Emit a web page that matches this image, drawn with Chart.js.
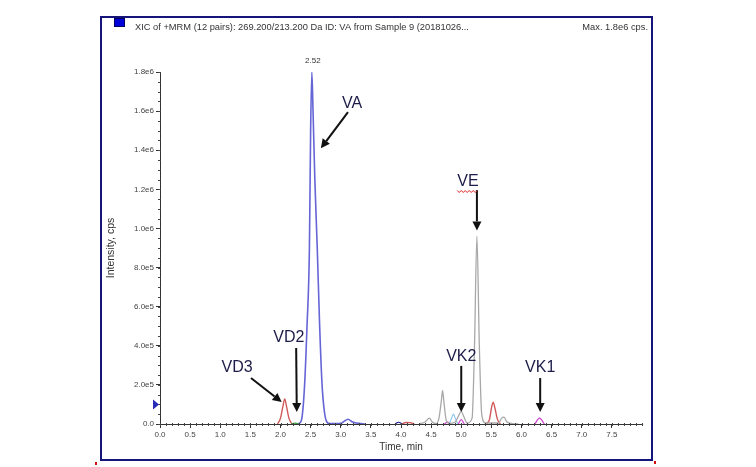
<!DOCTYPE html>
<html>
<head>
<meta charset="utf-8">
<script src="https://cdn.jsdelivr.net/npm/chart.js@4.4.0/dist/chart.umd.min.js"></script>
<style>
  html, body { margin: 0; padding: 0; background: #fff; }
  #wrap { position: relative; width: 756px; height: 467px; }
</style>
</head>
<body>
<div id="wrap"><canvas id="xicChart" width="756" height="467"></canvas></div>
<script>
// XIC traces, time in min, intensity in cps (null = gap between peaks)
const vaTime = [2.28, 2.32, 2.36, 2.40, 2.44, 2.48, 2.50, 2.52, 2.54, 2.57, 2.61, 2.65, 2.69, 2.73, 2.77, 2.82, 2.90, 3.00, 3.05, 3.12, 3.20, 3.30, 3.40];
const vaInt  = [0, 5e3, 4e4, 2e5, 5e5, 9e5, 1.5e6, 1.8e6, 1.6e6, 1.25e6, 9e5, 5e5, 2e5, 6e4, 1e4, 2e3, 2e3, 3e3, 1.2e4, 2.4e4, 1e4, 3e3, 0];

const redTime = [1.95, 2.00, 2.04, 2.07, 2.10, 2.14, 2.19, null, 4.02, 4.08, 4.15, 4.22, null, 5.42, 5.47, 5.50, 5.53, 5.56, 5.60, 5.65];
const redInt  = [0, 3e4, 9e4, 1.28e5, 9e4, 3e4, 0, null, 0, 8e3, 7e3, 0, null, 0, 2.5e4, 8e4, 1.12e5, 8e4, 2.5e4, 0];

const grayTime = [4.30, 4.40, 4.47, 4.52, 4.58, 4.63, 4.67, 4.69, 4.71, 4.75, 4.80, 4.90, 4.96, 5.00, 5.04, 5.10, 5.18, 5.22, 5.26, 5.30, 5.34, 5.40, 5.62, 5.67, 5.71, 5.76, 5.85, 5.95];
const grayInt  = [0, 1e4, 3e4, 1e4, 2e3, 3e4, 1.2e5, 1.72e5, 1.2e5, 2e4, 3e3, 1e4, 4.5e4, 6.5e4, 4e4, 5e3, 3e4, 4e5, 9.6e5, 4e5, 5e4, 5e3, 5e3, 3e4, 3.5e4, 1e4, 2e3, 0];

const cyanTime = [4.80, 4.84, 4.87, 4.90, 4.94];
const cyanInt  = [0, 3e4, 5e4, 3e4, 0];

const pinkTime = [4.72, 4.77, 4.82, null, 4.95, 5.00, 5.05, null, 6.22, 6.30, 6.38];
const pinkInt  = [0, 1e4, 0, null, 0, 2.2e4, 0, null, 0, 3e4, 0];

const greenTime = [2.18, 2.24, 2.30];
const greenInt  = [0, 4e3, 0];

const navyTime = [3.90, 3.96, 4.02];
const navyInt  = [0, 9e3, 0];

// axis ticks
const xTicks = [0, 0.5, 1, 1.5, 2, 2.5, 3, 3.5, 4, 4.5, 5, 5.5, 6, 6.5, 7, 7.5];
const yTicks = [0, 2e5, 4e5, 6e5, 8e5, 1e6, 1.2e6, 1.4e6, 1.6e6, 1.8e6];

// peak labels (arrow tail / head in time & cps)
const peakNames  = ['VA', 'VE', 'VK2', 'VK1', 'VD3', 'VD2'];
const labelPos   = [[3.19, 1.64e6], [5.11, 1.24e6], [5.00, 3.43e5], [6.31, 2.86e5], [1.28, 2.86e5], [2.14, 4.40e5]];
const arrowFrom  = [[3.12, 1.595e6], [5.26, 1.196e6], [5.00, 2.97e5], [6.31, 2.35e5], [1.51, 2.35e5], [2.26, 3.89e5]];
const arrowTo    = [[2.67, 1.41e6], [5.26, 0.99e6], [5.00, 6.1e4], [6.31, 6.1e4], [2.02, 1.12e5], [2.27, 6.1e4]];

const apexTime = 2.52;
const apexInt = 1.8e6;

const fontFam = '"Liberation Sans", Arial, sans-serif';

function toPoints(ts, vs) {
    return ts.map(function(t, i) {
        return t === null ? { x: null, y: null } : { x: t, y: vs[i] };
    });
}

function trace(ts, vs, color, width) {
    return {
        data: toPoints(ts, vs),
        borderColor: color,
        borderWidth: width || 1.2,
        pointRadius: 0,
        fill: false,
        spanGaps: false,
        cubicInterpolationMode: 'monotone'
    };
}

function drawArrow(ctx, x1, y1, x2, y2) {
    const ang = Math.atan2(y2 - y1, x2 - x1);
    const hl = 9, hw = 4.5;
    const bx = x2 - hl * Math.cos(ang), by = y2 - hl * Math.sin(ang);
    ctx.beginPath();
    ctx.moveTo(x1, y1);
    ctx.lineTo(bx, by);
    ctx.strokeStyle = '#111';
    ctx.lineWidth = 2;
    ctx.stroke();
    ctx.beginPath();
    ctx.moveTo(x2, y2);
    ctx.lineTo(bx + hw * Math.sin(ang), by - hw * Math.cos(ang));
    ctx.lineTo(bx - hw * Math.sin(ang), by + hw * Math.cos(ang));
    ctx.closePath();
    ctx.fillStyle = '#111';
    ctx.fill();
}

const framePlugin = {
    id: 'xicFrame',
    beforeDraw(chart) {
        const ctx = chart.ctx;
        ctx.save();
        ctx.fillStyle = '#fff';
        ctx.fillRect(0, 0, chart.width, chart.height);
        ctx.restore();
    },
    afterDraw(chart) {
        const ctx = chart.ctx;
        const xs = chart.scales.x, ys = chart.scales.y;
        const area = chart.chartArea;
        ctx.save();

        // outer window frame
        ctx.strokeStyle = '#14147a';
        ctx.lineWidth = 2;
        ctx.strokeRect(101, 17, 551, 443);

        // blue square + header
        ctx.fillStyle = '#0000d8';
        ctx.fillRect(114, 18, 11, 9);
        ctx.strokeStyle = '#000060';
        ctx.lineWidth = 1;
        ctx.strokeRect(114.5, 18.5, 10, 8);
        ctx.font = '9.3px ' + fontFam;
        ctx.fillStyle = '#333';
        ctx.textBaseline = 'middle';
        ctx.textAlign = 'left';
        ctx.fillText('XIC of +MRM (12 pairs): 269.200/213.200 Da ID: VA from Sample 9 (20181026...', 135, 27);
        ctx.textAlign = 'right';
        ctx.fillText('Max. 1.8e6 cps.', 648, 27);

        // minor ticks
        ctx.strokeStyle = '#444';
        ctx.lineWidth = 1;
        ctx.beginPath();
        for (let i = 0; i <= 80; i++) {
            const px = Math.round(xs.getPixelForValue(i / 10)) + 0.5;
            ctx.moveTo(px, area.bottom - 1);
            ctx.lineTo(px, area.bottom + 2);
        }
        for (let i = 0; i <= 36; i++) {
            const py = Math.round(ys.getPixelForValue(i * 5e4)) + 0.5;
            ctx.moveTo(area.left - 2, py);
            ctx.lineTo(area.left + 1, py);
        }
        ctx.stroke();

        // baseline marker on y axis
        const my = ys.getPixelForValue(1e5);
        ctx.fillStyle = '#2a2ab8';
        ctx.beginPath();
        ctx.moveTo(area.left - 7, my - 5);
        ctx.lineTo(area.left - 1, my);
        ctx.lineTo(area.left - 7, my + 5);
        ctx.closePath();
        ctx.fill();

        // apex label
        ctx.font = '8px ' + fontFam;
        ctx.fillStyle = '#333';
        ctx.textAlign = 'center';
        ctx.textBaseline = 'bottom';
        ctx.fillText(apexTime.toFixed(2), xs.getPixelForValue(apexTime) + 1, ys.getPixelForValue(apexInt) - 7);

        // peak names with arrows
        ctx.font = '16px ' + fontFam;
        ctx.textBaseline = 'middle';
        peakNames.forEach(function(name, i) {
            const lx = xs.getPixelForValue(labelPos[i][0]);
            const ly = ys.getPixelForValue(labelPos[i][1]);
            ctx.fillStyle = '#1c1c48';
            ctx.textAlign = 'center';
            ctx.fillText(name, lx, ly);
            drawArrow(ctx,
                xs.getPixelForValue(arrowFrom[i][0]), ys.getPixelForValue(arrowFrom[i][1]),
                xs.getPixelForValue(arrowTo[i][0]), ys.getPixelForValue(arrowTo[i][1]));
            if (name === 'VE') {
                // spell-check squiggle
                const w = ctx.measureText(name).width;
                ctx.strokeStyle = '#e02020';
                ctx.lineWidth = 1;
                ctx.beginPath();
                let sx = lx - w / 2, sy = ly + 9;
                ctx.moveTo(sx, sy);
                for (let k = 0; sx + 2 <= lx + w / 2; k++) {
                    sx += 2;
                    ctx.lineTo(sx, sy + (k % 2 === 0 ? 2 : 0));
                }
                ctx.stroke();
            }
        });

        // small red marks at frame corners
        ctx.fillStyle = '#d01010';
        ctx.fillRect(95, 462, 2, 3);
        ctx.fillRect(654, 461, 2, 3);
        ctx.restore();
    }
};

new Chart(document.getElementById('xicChart'), {
    type: 'line',
    data: {
        datasets: [
            trace(grayTime, grayInt, '#a8a8a8', 1.3),
            trace(cyanTime, cyanInt, '#8cc8ec'),
            trace(pinkTime, pinkInt, '#d040d0'),
            trace(navyTime, navyInt, '#1a1a90'),
            trace(greenTime, greenInt, '#3a9a3a'),
            trace(redTime, redInt, '#d05a5a', 1.4),
            trace(vaTime, vaInt, '#6565d6', 1.6)
        ]
    },
    options: {
        responsive: false,
        animation: false,
        layout: {
            padding: { left: 100, top: 72, right: 114, bottom: 5 }
        },
        plugins: {
            legend: { display: false },
            tooltip: { enabled: false }
        },
        scales: {
            x: {
                type: 'linear',
                min: 0,
                max: 8,
                afterFit: function(scale) { scale.height = 38; },
                afterBuildTicks: function(scale) {
                    scale.ticks = xTicks.map(function(v) { return { value: v }; });
                },
                ticks: {
                    autoSkip: false,
                    maxRotation: 0,
                    padding: 2,
                    color: '#444',
                    font: { size: 8, family: fontFam },
                    callback: function(v) { return v.toFixed(1); }
                },
                grid: { drawOnChartArea: false, tickLength: 4, color: '#333' },
                border: { color: '#333', width: 1 },
                title: {
                    display: true,
                    text: 'Time, min',
                    color: '#333',
                    font: { size: 10, family: fontFam },
                    padding: { top: 9, bottom: 9 }
                }
            },
            y: {
                min: 0,
                max: 1.8e6,
                afterFit: function(scale) { scale.width = 60; },
                afterBuildTicks: function(scale) {
                    scale.ticks = yTicks.map(function(v) { return { value: v }; });
                },
                ticks: {
                    padding: 2,
                    color: '#444',
                    font: { size: 8, family: fontFam },
                    callback: function(v) { return v === 0 ? '0.0' : v.toExponential(1).replace('e+', 'e'); }
                },
                grid: { drawOnChartArea: false, tickLength: 4, color: '#333' },
                border: { color: '#333', width: 1 },
                title: {
                    display: true,
                    text: 'Intensity, cps',
                    color: '#333',
                    font: { size: 10.5, family: fontFam },
                    padding: { top: 5, bottom: 5 }
                }
            }
        }
    },
    plugins: [framePlugin]
});
</script>
</body>
</html>
